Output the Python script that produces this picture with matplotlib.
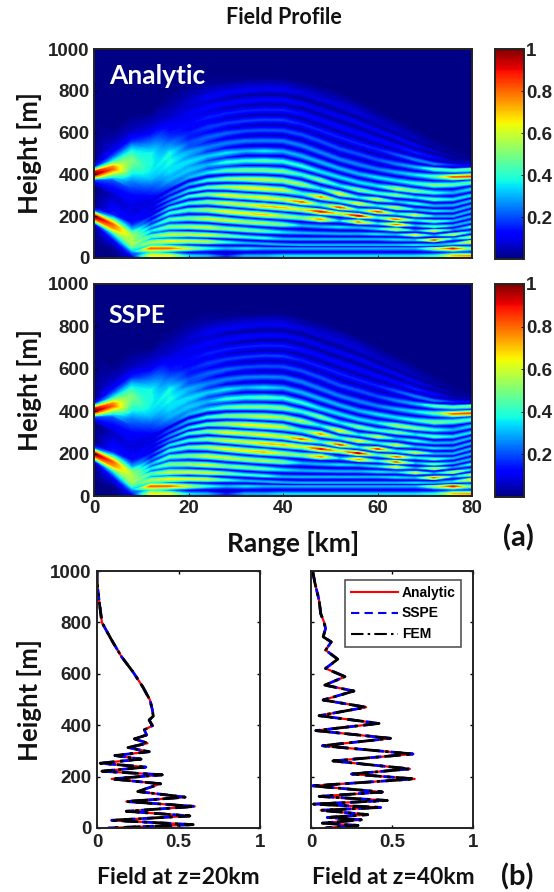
import numpy as np
import matplotlib
import matplotlib.pyplot as plt
from matplotlib.cm import ScalarMappable
from matplotlib.colors import Normalize

matplotlib.use('Agg')

W, H = 554, 892
body_font = 'Liberation Sans'
label_font = 'Lato'

ranges_km = [0, 4, 8, 12, 16, 20, 24, 28, 32, 36, 40, 44, 48, 52, 56, 60, 64, 68, 72, 76, 80]

# fringes: height of each crest at every range, lowest crest first
crest_h = [
    [40, 40, 10, 10, 10, 10, 10, 10, 10, 10, 10, 10, 10, 10, 10, 10, 10, 10, 10, 10, 10],
    [100, 85, 30, 46, 46, 46, 46, 46, 46, 46, 46, 46, 46, 46, 46, 46, 46, 46, 46, 46, 46],
    [150, 100, 50, 76, 80, 80, 78, 75, 72, 68, 64, 62, 62, 62, 62, 62, 62, 62, 62, 68, 78],
    [165, 118, 65, 105, 112, 113, 110, 106, 100, 95, 91, 90, 90, 90, 90, 90, 88, 86, 86, 92, 100],
    [175, 130, 85, 130, 150, 150, 146, 140, 134, 128, 123, 120, 118, 116, 116, 114, 112, 110, 108, 112, 125],
    [187, 145, 100, 150, 185, 190, 188, 180, 172, 166, 160, 155, 150, 148, 145, 140, 136, 132, 130, 135, 150],
    [200, 160, 115, 172, 215, 230, 230, 222, 214, 207, 200, 192, 185, 178, 172, 165, 160, 155, 150, 155, 175],
    [212, 175, 135, 195, 240, 262, 268, 262, 255, 248, 241, 232, 222, 212, 202, 193, 185, 180, 175, 178, 200],
    [225, 187, 160, 220, 262, 295, 305, 300, 294, 288, 280, 268, 255, 242, 230, 222, 212, 205, 200, 200, 225],
    [250, 205, 170, 240, 285, 322, 338, 340, 336, 331, 325, 308, 292, 274, 260, 250, 240, 232, 225, 225, 250],
    [350, 300, 230, 262, 310, 352, 372, 378, 378, 375, 370, 352, 332, 307, 290, 280, 270, 260, 250, 252, 275],
    [375, 375, 300, 285, 340, 385, 408, 418, 420, 420, 415, 398, 372, 346, 325, 310, 300, 290, 280, 280, 300],
    [387, 395, 370, 310, 375, 420, 445, 458, 465, 465, 462, 440, 412, 386, 362, 345, 332, 320, 312, 312, 330],
    [400, 425, 410, 340, 415, 460, 487, 503, 512, 512, 510, 488, 458, 428, 402, 385, 370, 357, 348, 350, 360],
    [412, 437, 440, 375, 455, 505, 530, 550, 560, 562, 560, 538, 505, 472, 447, 425, 410, 398, 390, 388, 390],
    [425, 450, 470, 410, 500, 550, 577, 597, 608, 612, 610, 590, 558, 522, 497, 470, 450, 435, 425, 420, 425],
    [437, 465, 500, 450, 545, 595, 625, 645, 656, 662, 660, 640, 610, 577, 547, 520, 495, 470, 450, 445, 445],
    [460, 485, 530, 495, 590, 640, 672, 692, 704, 710, 708, 690, 660, 628, 597, 565, 535, 505, 480, 465, 460],
    [520, 510, 560, 545, 640, 690, 720, 740, 752, 758, 756, 738, 708, 678, 647, 610, 575, 540, 510, 485, 470],
    [600, 550, 610, 600, 690, 740, 768, 788, 800, 806, 804, 786, 758, 728, 692, 650, 610, 570, 535, 500, 480],
    [750, 620, 700, 700, 800, 850, 880, 900, 910, 915, 915, 900, 880, 850, 810, 770, 720, 670, 620, 570, 520],
]

# field value on those crests
crest_v = [
    [0, 0, .10, .65, .65, .35, .30, .15, .30, .30, .35, .35, .35, .35, .35, .35, .35, .35, .40, .70, .75],
    [0, .10, .25, .80, .80, .60, .40, .30, .35, .30, .30, .30, .30, .30, .30, .30, .30, .30, .55, .90, .45],
    [0, .20, .45, .55, .65, .60, .60, .40, .30, .30, .30, .30, .30, .30, .30, .30, .30, .35, .30, .35, .70],
    [.10, .35, .55, .45, .60, .60, .60, .50, .40, .40, .30, .30, .30, .30, .30, .30, .35, .30, .80, .30, .55],
    [.40, .55, .55, .35, .50, .55, .60, .50, .50, .45, .35, .30, .30, .30, .30, .35, .30, .60, .25, .60, .30],
    [.80, .75, .55, .30, .45, .50, .60, .60, .55, .55, .50, .30, .30, .35, .30, .35, .60, .25, .60, .25, .40],
    [1.0, .80, .50, .20, .40, .45, .55, .65, .65, .70, .55, .50, .75, .30, .75, .35, .80, .30, .45, .30, .30],
    [.70, .60, .30, .15, .35, .40, .50, .60, .60, .70, .70, .60, .90, .60, .95, .40, .80, .35, .45, .30, .30],
    [.20, .40, .15, .10, .25, .40, .50, .65, .60, .65, .60, .80, .40, .85, .35, .85, .35, .60, .30, .30, .30],
    [0, .15, .12, .10, .25, .35, .45, .55, .65, .65, .60, .40, .75, .40, .65, .35, .60, .30, .35, .30, .30],
    [0, .05, .08, .10, .20, .30, .40, .50, .55, .60, .55, .55, .35, .65, .35, .60, .30, .40, .30, .30, .30],
    [.20, .20, .12, .10, .20, .30, .35, .45, .50, .50, .50, .40, .50, .35, .50, .40, .50, .35, .45, .35, .35],
    [.70, .45, .25, .15, .30, .33, .30, .40, .40, .45, .40, .40, .35, .35, .35, .35, .55, .50, .40, .30, .35],
    [1.0, .80, .38, .20, .35, .35, .32, .35, .30, .35, .30, .30, .30, .30, .30, .35, .35, .40, .50, .45, .45],
    [.90, .75, .45, .30, .38, .30, .25, .25, .25, .25, .25, .25, .25, .25, .25, .25, .30, .35, .45, .80, .85],
    [.40, .55, .50, .35, .38, .20, .22, .22, .20, .20, .20, .20, .20, .20, .20, .20, .25, .30, .45, .45, .50],
    [.10, .35, .42, .38, .25, .15, .18, .18, .18, .18, .18, .15, .15, .15, .15, .15, .20, .25, .25, .15, .10],
    [0, .20, .30, .38, .15, .12, .15, .15, .15, .15, .15, .13, .12, .12, .12, .12, .12, .15, .12, .05, .05],
    [0, .10, .15, .25, .10, .10, .12, .12, .12, .12, .12, .10, .10, .10, .10, .10, .10, .10, .06, .03, .02],
    [0, .05, .05, .10, .05, .07, .10, .10, .10, .10, .10, .08, .08, .08, .08, .06, .06, .05, .03, .02, .01],
    [0] * 21,
]

# how much of the neighbouring crests is left in the dark band between them
dip_low = [1, 1, 1, .5, .25, .1, .08, .08, .1, .1, .1, .1, .1, .1, .1, .1, .1, .1, .1, .1, .1]
dip_high = [1, 1, 1, 1, .95, .8, .55, .3, .2, .15, .15, .15, .15, .15, .15, .15, .15, .15, .15, .15, .15]
n_low_crests = 11

# vertical cuts
h_20km = [1000, 960, 900, 850, 800, 731, 667, 608, 550, 498, 459, 435, 420, 398, 382, 362, 347, 330, 313,
          297, 282, 268, 252, 237, 221, 207, 191, 172, 142, 120, 103, 84, 65, 47, 30, 13, 0]
v_20km = [0, 0, .01, .02, .03, .09, .15, .22, .28, .325, .34, .345, .32, .34, .29, .305, .23, .31, .19,
          .32, .11, .27, .02, .30, .03, .40, .09, .39, .25, .54, .18, .60, .18, .57, .09, .59, .07]
h_40km = [1000, 951, 886, 834, 802, 776, 744, 724, 692, 657, 621, 589, 556, 533, 498, 470, 437, 407, 379,
          349, 320, 288, 261, 230, 210, 191, 164, 140, 123, 107, 93, 80, 69, 52, 41, 32, 19, 10, 0]
v_40km = [.01, .025, .05, .06, .08, .09, .075, .125, .09, .165, .09, .21, .085, .265, .075, .34, .05, .42, .03,
          .49, .07, .63, .135, .61, .25, .64, .01, .44, .05, .47, .015, .43, .06, .35, .10, .31, .07, .29, .09]


def field_grid():
    # bent grid that runs along the crests, with one dark band between each pair
    ch = np.array(crest_h, dtype=float)
    cv = np.array(crest_v, dtype=float)
    nr, nc = ch.shape
    yy = [np.zeros(nc)]
    zz = [cv[0] * np.array(dip_low)]
    for i in range(nr):
        yy.append(ch[i])
        zz.append(cv[i])
        if i < nr - 1:
            dip = np.array(dip_low if i < n_low_crests else dip_high)
            yy.append((ch[i] + ch[i + 1]) / 2)
            zz.append((cv[i] + cv[i + 1]) / 2 * dip)
    yy.append(np.full(nc, 1000.0))
    zz.append(np.zeros(nc))
    xx = np.tile(np.array(ranges_km, dtype=float), (len(yy), 1))
    return xx, np.array(yy), np.array(zz)


def axes_px(fig, left, top, right, bottom):
    return fig.add_axes([left / W, 1 - bottom / H, (right - left) / W, (bottom - top) / H])


def put_text(fig, x, y, s, size, family=label_font, color='#111111', rotation=0):
    fig.text(x / W, 1 - y / H, s, fontsize=size, fontweight='bold', family=family, color=color,
             ha='center', va='center', rotation=rotation)


def style_ticks(ax, size=13.5):
    for lab in ax.get_xticklabels() + ax.get_yticklabels():
        lab.set_fontsize(size)
        lab.set_fontweight('bold')
        lab.set_family(body_font)
        lab.set_color('#222222')
    for s in ax.spines.values():
        s.set_linewidth(1.4)
        s.set_color('#222222')


fig = plt.figure(figsize=(W / 100, H / 100), dpi=100)
levels = np.linspace(0, 1, 129)
xx, yy, zz = field_grid()

for top, bottom, name, name_x, name_y, show_x in [(49, 258, 'Analytic', 157, 76, False),
                                                   (284, 496, 'SSPE', 137, 315, True)]:
    ax = axes_px(fig, 94, top, 472, bottom)
    ax.contourf(xx, yy, zz, levels=levels, cmap='jet', vmin=0, vmax=1)
    ax.set_xlim(0, 80)
    ax.set_ylim(0, 1000)
    ax.set_xticks([0, 20, 40, 60, 80])
    ax.set_yticks([0, 200, 400, 600, 800, 1000])
    ax.tick_params(direction='in', length=2, width=0.6, pad=3, labelbottom=show_x)
    style_ticks(ax)
    put_text(fig, name_x, name_y, name, 19 if name == 'Analytic' else 18, color='white')

    cax = axes_px(fig, 495, top, 524, bottom + 1)
    fig.colorbar(ScalarMappable(Normalize(0, 1), 'jet'), cax=cax, ticks=[0.2, 0.4, 0.6, 0.8, 1])
    cax.set_yticklabels(['0.2', '0.4', '0.6', '0.8', '1'])
    cax.tick_params(direction='in', length=2, width=0.6, pad=1.5)
    style_ticks(cax, 13.5)

ax1 = axes_px(fig, 97, 571, 260, 828)
ax2 = axes_px(fig, 311, 571, 473, 828)
for ax, hh, vv in [(ax1, h_20km, v_20km), (ax2, h_40km, v_40km)]:
    ax.plot(vv, hh, color='red', lw=1.6, label='Analytic')
    ax.plot(vv, hh, color='blue', lw=2, ls=(0, (4, 2.5)), label='SSPE')
    ax.plot(vv, hh, color='black', lw=2, ls=(0, (6, 2, 1.2, 2)), label='FEM')
    ax.set_xlim(0, 1)
    ax.set_ylim(0, 1000)
    ax.set_xticks([0, 0.5, 1])
    ax.set_xticklabels(['0', '0.5', '1'])
    ax.set_yticks([0, 200, 400, 600, 800, 1000])
    ax.tick_params(direction='in', length=2.5, width=1, top=True, right=True, pad=4)
    style_ticks(ax, 13.5)
ax2.tick_params(labelleft=False)

leg = ax2.legend(loc='upper left', bbox_to_anchor=(0.21, 0.965), borderaxespad=0, fancybox=False,
                 edgecolor='#555555', framealpha=1, handlelength=3.4, handletextpad=0.3,
                 labelspacing=0.5, prop={'family': body_font, 'size': 10, 'weight': 'bold'})
leg.get_frame().set_linewidth(1.2)
for line in leg.get_lines():
    line.set_linewidth(1.5)

put_text(fig, 284, 17, 'Field Profile', 15.5)
put_text(fig, 29, 153, 'Height [m]', 18.5, rotation=90)
put_text(fig, 29, 390, 'Height [m]', 18.5, rotation=90)
put_text(fig, 29, 700, 'Height [m]', 18.5, rotation=90)
put_text(fig, 293, 543, 'Range [km]', 19)
put_text(fig, 518, 538, '(a)', 21)
put_text(fig, 178, 877, 'Field at z=20km', 16.5)
put_text(fig, 393, 877, 'Field at z=40km', 16.5)
put_text(fig, 517, 877, '(b)', 21)

fig.savefig('out.png', dpi=100)
